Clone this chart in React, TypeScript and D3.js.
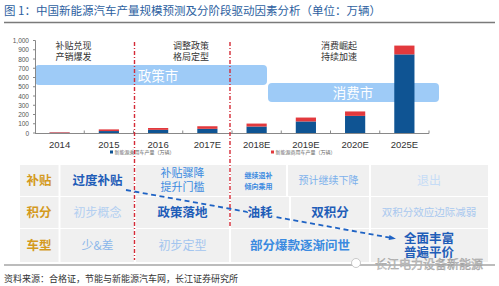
import React from "react";
import * as d3 from "d3";

const categories = ["2014", "2015", "2016", "2017E", "2018E", "2019E", "2020E", "2025E"];
const passenger = [3, 21, 34, 45, 70, 125, 185, 850];
const commercial = [6, 18, 20, 28, 32, 42, 48, 95];
const yTicks = [0, 100, 200, 300, 400, 500, 600, 700, 800, 900, 1000];
const seriesNames = ["新能源乘用车产量（万辆）", "新能源商用车产量（万辆）"];
const stageLabels = [["补贴兑现", "产销爆发"], ["调整政策", "格局定型"], ["消费崛起", "持续加速"]];
const marketLabels = ["政策市", "消费市"];
const rowLabels = ["补贴", "积分", "车型"];

const FONT = "'Noto Sans CJK SC', 'Noto Sans', sans-serif";
const BLUE = "#0f5493";
const RED = "#e2393d";

type Cell = { x0: number; x1: number; lines: string[]; color: string; size: number; bold?: boolean; lh?: number };

const tableRows: { y0: number; y1: number; cells: Cell[] }[] = [
  {
    y0: 165, y1: 196,
    cells: [
      { x0: 60, x1: 135, lines: ["过度补贴"], color: "#1f5db8", size: 12.5, bold: true },
      { x0: 135, x1: 230, lines: ["补贴骤降", "提升门槛"], color: "#3a8ae0", size: 11, lh: 14 },
      { x0: 230, x1: 287, lines: ["继续退补", "倾向乘用"], color: "#3a8ae0", size: 7, bold: true, lh: 11 },
      { x0: 287, x1: 370, lines: ["预计继续下降"], color: "#7cb0ec", size: 10 },
      { x0: 370, x1: 488, lines: ["退出"], color: "#c6dcf6", size: 12 },
    ],
  },
  {
    y0: 197, y1: 228,
    cells: [
      { x0: 60, x1: 135, lines: ["初步概念"], color: "#b3cff1", size: 12 },
      { x0: 135, x1: 230, lines: ["政策落地"], color: "#1f5db8", size: 12.5, bold: true },
      { x0: 230, x1: 290, lines: ["油耗"], color: "#1f5db8", size: 12.5, bold: true },
      { x0: 290, x1: 370, lines: ["双积分"], color: "#1f5db8", size: 12.5, bold: true },
      { x0: 370, x1: 488, lines: ["双积分效应边际减弱"], color: "#a9c8ef", size: 10.5 },
    ],
  },
  {
    y0: 229, y1: 262,
    cells: [
      { x0: 60, x1: 135, lines: ["少&差"], color: "#8ab6ea", size: 12 },
      { x0: 135, x1: 230, lines: ["初步定型"], color: "#a3c5ef", size: 12 },
      { x0: 230, x1: 370, lines: ["部分爆款逐渐问世"], color: "#3a8ae0", size: 12.5, bold: true },
      { x0: 370, x1: 488, lines: ["全面丰富", "普遍平价"], color: "#1f5db8", size: 12.5, bold: true, lh: 14 },
    ],
  },
];

export default function App() {
  const x = d3.scaleBand<string>().domain(categories).range([35, 429]).paddingInner(0.59).paddingOuter(0.295);
  const y = d3.scaleLinear().domain([0, 1000]).range([133, 40.5]);
  const step = x.step();
  const bw = x.bandwidth();
  const boundary = (i: number) => 35 + step * i;

  const stacked = d3.stack<number>().keys(["p", "c"]).value((d, k) => (k === "p" ? passenger[d] : commercial[d]))(
    categories.map((_, i) => i)
  );

  const arrowStart: [number, number] = [126, 190];
  const arrowEnd: [number, number] = [392, 238];
  const ang = Math.atan2(arrowEnd[1] - arrowStart[1], arrowEnd[0] - arrowStart[0]);

  return (
    <svg width={499} height={286} style={{ position: "fixed", left: 0, top: 0, background: "#fff" }} fontFamily={FONT}>
      <rect width={499} height={286} fill="#fff" />
      {/* title */}
      <text x={4} y={15} fontSize={11.5} fill="#2d5f9f">图 1：中国新能源汽车产量规模预测及分阶段驱动因素分析（单位：万辆）</text>
      <line x1={4} x2={495} y1={22.5} y2={22.5} stroke="#7a7a7a" strokeWidth={1.5} />

      {/* market bands */}
      <rect x={35} y={65} width={232} height={20} rx={4} fill="#9ecbf7" />
      <text x={158} y={80.5} fontSize={13.5} fill="#fff" textAnchor="middle">{marketLabels[0]}</text>
      <rect x={268} y={83} width={171} height={19} rx={4} fill="#9ecbf7" />
      <text x={353} y={97.5} fontSize={13.5} fill="#fff" textAnchor="middle">{marketLabels[1]}</text>

      {/* y axis */}
      <line x1={35.5} x2={35.5} y1={y(1000)} y2={y(0)} stroke="#888" />
      {yTicks.map((t) => (
        <g key={t}>
          <line x1={33} x2={35.5} y1={y(t)} y2={y(t)} stroke="#888" />
          <text x={29} y={y(t) + 2.5} fontSize={6.5} fill="#555" textAnchor="end" fontFamily="'Liberation Sans', Arial, sans-serif">
            {d3.format(",")(t)}
          </text>
        </g>
      ))}

      {/* bars */}
      {stacked.map((s, si) =>
        s.map((d, i) => (
          <rect key={si + "-" + i} x={x(categories[i])} width={bw} y={y(d[1])} height={y(d[0]) - y(d[1])} fill={si === 0 ? BLUE : RED} />
        ))
      )}

      {/* x axis */}
      <line x1={35} x2={429} y1={133.5} y2={133.5} stroke="#888" />
      {categories.map((_, i) => (
        <line key={i} x1={boundary(i + 1)} x2={boundary(i + 1)} y1={130.5} y2={133.5} stroke="#888" />
      ))}
      {categories.map((c) => (
        <text key={c} x={(x(c) as number) + bw / 2} y={148} fontSize={9.5} fill="#333" textAnchor="middle" fontFamily="'Liberation Sans', Arial, sans-serif">
          {c}
        </text>
      ))}

      {/* legend */}
      <rect x={110} y={150.5} width={3} height={3} fill={BLUE} />
      <text x={114.5} y={154} fontSize={5} fill="#666">{seriesNames[0]}</text>
      <rect x={271} y={150.5} width={3} height={3} fill={RED} />
      <text x={275.5} y={154} fontSize={5} fill="#666">{seriesNames[1]}</text>

      {/* stage labels */}
      {[73.5, 191, 339].map((cx, i) => (
        <g key={i}>
          <text x={cx} y={48.5} fontSize={9} fill="#333" textAnchor="middle">{stageLabels[i][0]}</text>
          <text x={cx} y={59.5} fontSize={9} fill="#333" textAnchor="middle">{stageLabels[i][1]}</text>
        </g>
      ))}

      {/* table */}
      {tableRows.map((r, ri) => (
        <g key={ri}>
          <rect x={20} y={r.y0} width={468} height={r.y1 - r.y0} fill="#f0f0f0" />
          <line x1={59.5} x2={59.5} y1={r.y0} y2={r.y1} stroke="#fff" strokeWidth={2} />
          {r.cells.slice(1).map((c, ci) => (
            <line key={ci} x1={c.x0} x2={c.x0} y1={r.y0} y2={r.y1} stroke="#fff" strokeWidth={2} />
          ))}
          <text x={39} y={(r.y0 + r.y1) / 2 + 4.5} fontSize={12.5} fontWeight={700} fill="#d49a1e" textAnchor="middle">{rowLabels[ri]}</text>
        </g>
      ))}

      {/* red dash-dot separators */}
      {[boundary(2) + 1, boundary(4) - 2].map((bx, i) => (
        <line key={i} x1={bx} x2={bx} y1={42} y2={i === 0 ? 260 : 228} stroke="#d42a36" strokeWidth={1.4} strokeDasharray="4,2,1,2" />
      ))}

      {/* dashed arrow */}
      <line x1={arrowStart[0]} y1={arrowStart[1]} x2={arrowEnd[0]} y2={arrowEnd[1]} stroke="#1f63c4" strokeWidth={1.8} strokeDasharray="5,3.5" />
      <path
        d={`M${arrowEnd[0] + 4 * Math.cos(ang)},${arrowEnd[1] + 4 * Math.sin(ang)} L${arrowEnd[0] - 3 * Math.cos(ang) - 2.5 * Math.sin(ang)},${arrowEnd[1] - 3 * Math.sin(ang) + 2.5 * Math.cos(ang)} L${arrowEnd[0] - 3 * Math.cos(ang) + 2.5 * Math.sin(ang)},${arrowEnd[1] - 3 * Math.sin(ang) - 2.5 * Math.cos(ang)} Z`}
        fill="#1f63c4"
      />

      {tableRows.map((r, ri) =>
        r.cells.map((c, ci) => {
          const cx = (c.x0 + c.x1) / 2;
          const cy = (r.y0 + r.y1) / 2;
          const lh = c.lh ?? c.size * 1.15;
          const n = c.lines.length;
          return (
            <g key={ri + "-" + ci}>
              {c.lines.map((l, li) => (
                <text
                  key={li}
                  x={cx}
                  y={cy + (li - (n - 1) / 2) * lh + c.size * 0.36}
                  fontSize={c.size}
                  fontWeight={c.bold ? 700 : 400}
                  fill={c.color}
                  textAnchor="middle"
                  stroke={ri === 1 && ci === 2 ? "#f0f0f0" : "none"}
                  strokeWidth={ri === 1 && ci === 2 ? 2 : 0}
                  paintOrder="stroke"
                >
                  {l}
                </text>
              ))}
            </g>
          );
        })
      )}

      {/* footer */}
      <line x1={4} x2={495} y1={265} y2={265} stroke="#7a7a7a" strokeWidth={1.2} />
      <text x={4} y={282} fontSize={9} fill="#333">资料来源：合格证，节能与新能源汽车网，长江证券研究所</text>
      <circle cx={356} cy={263} r={4.5} fill="#fff" stroke="#bbb" strokeWidth={0.8} />
      <text x={375} y={269} fontSize={12} fill="#d0d0d0" stroke="#999" strokeWidth={0.4}>长江电力设备新能源</text>
    </svg>
  );
}
